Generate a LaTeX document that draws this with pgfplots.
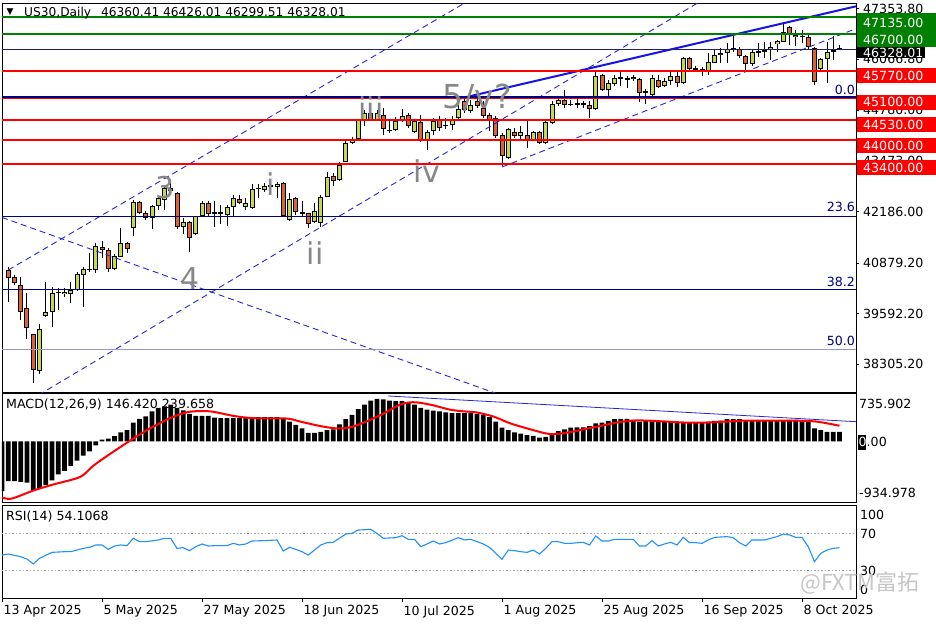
\documentclass[border=0pt]{standalone}
\usepackage{pgfplots}
\pgfplotsset{compat=1.18}
\usepackage{pgfplotstable}
\usepackage{fontspec}
\setmainfont{DejaVu Sans}
\newfontfamily\cjk{Noto Sans CJK SC}
\definecolor{bull}{RGB}{198,216,78}
\definecolor{bear}{RGB}{218,100,50}
\definecolor{mtgreen}{RGB}{0,128,0}
\definecolor{mtred}{RGB}{255,0,0}
\definecolor{navy}{RGB}{0,0,128}
\definecolor{bidline}{RGB}{30,30,120}
\definecolor{chan}{RGB}{40,40,210}
\definecolor{trend}{RGB}{20,20,230}
\definecolor{fibfifty}{RGB}{150,150,196}
\definecolor{rsiblue}{RGB}{30,144,255}
\definecolor{wave}{RGB}{135,135,135}
\newcommand{\lf}{\fontsize{12.6pt}{15pt}\selectfont}
\newcommand{\wf}{\fontsize{30pt}{34pt}\selectfont}

\pgfplotstableread{
i o h l c
6 38124 39324 38064 39214
7 39537 40406 39512 39623
8 39623 40278 39256 40108
9 40125 40236 39682 40142
10 40082 40236 40022 40142
11 40082 40406 39869 40193
12 40193 40662 40176 40593
13 40576 40789 39750 40730
14 40704 41130 40662 40738
15 40704 41403 40636 41318
18 40721 41113 40704 41070
19 41045 41769 41028 41403
21 41769 42493 41573 42433
24 42024 42365 41743 42322
25 42339 42578 42220 42535
26 42493 42833 42237 42791
29 41795 42024 41624 41922
31 41624 42084 41607 42067
32 42067 42450 42050 42408
34 42145 42455 41804 42179
35 42145 42358 41873 42188
36 42103 42358 41822 42316
37 42316 42614 42060 42528
39 42299 42528 42230 42401
40 42273 42895 42248 42759
41 42776 42895 42528 42793
42 42741 42912 42699 42844
43 42827 42997 42741 42869
44 42827 42954 42528 42886
46 41975 42673 41958 42511
50 41932 42401 41890 42213
51 41907 42614 41804 42571
52 42571 43210 42554 43065
54 42997 43465 42980 43380
55 43465 43976 43440 43934
56 43934 44087 43917 44036
57 44036 44547 44019 44513
58 44513 44785 44360 44700
60 44530 44785 44487 44700
63 44257 44598 44232 44487
64 44513 44802 44462 44615
66 44215 44530 44189 44487
68 44002 44274 43764 44206
69 44232 44573 44147 44487
71 44377 44573 44291 44394
72 44402 44632 44274 44547
73 44560 45040 44540 44800
75 44743 45041 44700 44913
81 43550 44317 43525 44291
83 44104 44360 44019 44206
85 44019 44232 43976 44206
87 43934 44487 43917 44462
88 44445 44998 44428 44939
89 44939 45109 44888 45041
91 44913 45041 44871 44922
92 44930 45126 44828 44947
95 44803 45765 44785 45637
97 45296 45552 45126 45467
98 45450 45654 45399 45595
99 45586 45739 45382 45603
101 45569 45654 45509 45620
103 45238 45298 44940 45255
104 45153 45664 45128 45596
106 45383 45579 45349 45519
107 45519 45749 45409 45639
109 45451 46133 45434 46090
111 45818 45894 45775 45826
113 45749 46235 45664 46005
114 45979 46320 45962 46175
115 46184 46346 45962 46235
116 46235 46473 45979 46329
117 46303 46686 46260 46346
120 45946 46303 45894 46260
121 46235 46473 46133 46277
122 46277 46516 46090 46294
123 46303 46516 46048 46388
124 46448 46559 46260 46533
125 46516 47001 46499 46754
128 46644 46814 46490 46652
131 45809 46090 45775 46065
132 46065 46516 45451 46260
}\bulltab

\pgfplotstableread{
i o h l c
1 40704 40789 39895 40491
2 40517 40576 40321 40363
3 40321 40517 39427 39639
4 39725 40125 38958 39239
5 39069 39086 37834 38149
16 41300 41445 41002 41215
17 41215 41258 40662 40721
20 41386 41428 41130 41232
22 42433 42450 42135 42152
23 42152 42195 41982 42024
27 42791 42919 42663 42706
28 42663 42680 41743 41795
30 41922 41939 41173 41513
33 42408 42450 42050 42126
38 42511 42614 42384 42401
45 42912 42954 42060 42077
47 42528 42554 42103 42188
48 42179 42469 42060 42145
49 42145 42162 41762 41873
53 43099 43167 42844 42980
59 44700 44828 44487 44530
61 44658 44828 44147 44300
62 44275 44487 44189 44257
65 44658 44700 44317 44360
67 44462 44658 43951 43993
70 44530 44632 44232 44317
74 44998 45084 44700 44785
76 44998 45126 44828 44888
77 44828 44998 44572 44615
78 44658 44700 44232 44530
79 44572 44615 44061 44104
80 44147 44189 43338 43593
82 44206 44317 44061 44104
84 44147 44487 43806 44019
86 44206 44232 43917 43934
90 45041 45296 44828 44913
93 44939 44998 44828 44930
94 44913 44998 44572 44803
96 45654 45680 45254 45296
100 45577 45637 45339 45560
102 45560 45600 44980 45200
105 45537 45664 45324 45349
108 45639 45749 45349 45451
110 46090 46116 45775 45809
112 45809 45860 45639 45749
118 46329 46388 46090 46150
119 46150 46175 45749 45946
126 46882 46916 46431 46686
127 46686 46814 46405 46627
129 46627 46686 46303 46388
130 46363 46388 45409 45494
133 46286 46661 46048 46277
134 46360.41 46426.01 46299.51 46328.01
}\beartab

\pgfplotstableread{
i v
0 -769
1 -612
2 -612
3 -623
4 -638
5 -759
6 -717
7 -675
8 -602
9 -508
10 -455
11 -377
12 -298
13 -220
14 -157
15 -63
16 26
17 42
18 78
19 136
20 173
21 288
22 345
23 382
24 461
25 513
26 539
27 565
28 513
29 476
30 424
31 392
32 392
33 392
34 366
35 356
36 356
37 356
38 356
39 372
40 372
41 372
42 372
43 372
44 372
45 340
46 304
47 251
48 199
49 131
50 131
51 147
52 173
53 183
54 262
55 340
56 408
57 497
58 565
59 628
60 654
61 644
62 628
63 617
64 617
65 602
66 565
67 513
68 487
69 471
70 461
71 445
72 434
73 434
74 434
75 434
76 424
77 408
78 372
79 304
80 209
81 173
82 136
83 120
84 94
85 84
86 58
87 68
88 120
89 157
90 183
91 209
92 215
93 215
94 235
95 277
96 288
97 314
98 340
99 345
100 345
101 330
102 304
103 319
104 314
105 314
106 304
107 304
108 293
109 293
110 293
111 293
112 293
113 304
114 314
115 319
116 340
117 340
118 340
119 319
120 319
121 319
122 319
123 319
124 319
125 319
126 330
127 330
128 319
129 319
130 199
131 173
132 147
133 147
134 146.42
}\macdtab

\pgfplotstableread{
i v
0 -863
1.5 -884
5 -759
8.2 -665
12.5 -549
14.6 -377
17.3 -194
21 42
23.7 199
26.9 356
29.5 445
31.7 466
33.8 455
37 392
40.2 356
45.5 351
47.7 304
50.9 235
53.5 199
55.7 215
58.3 304
61 424
63.7 565
65.8 602
68.5 565
71.7 487
74 460
75.9 445
78.6 382
81.3 277
84 199
86.6 131
88 110
90.3 131
93 183
95.7 235
98.3 288
101 319
103.1 319
106.3 304
109.5 288
112.7 288
116 304
119.1 319
122.3 319
125.5 319
128.7 314
130.3 304
132 277
134 239.658
}\sigtab

\pgfplotstableread{
i v
0 46.2
1 47.3
3 44.4
4 41.9
5 36.6
6 42.7
8 49.1
10 49.8
11 49.8
13 53.4
14 54.5
15 57.0
16 57.0
17 52.3
18 55.9
19 57.0
20 56.3
21 64.2
22 60.6
23 60.6
25 62.4
26 64.2
27 64.2
28 53.4
29 54.1
30 50.9
31 55.2
32 58.1
33 55.9
34 56.3
36 56.3
37 58.8
38 57.0
39 58.1
40 61.3
42 61.7
44 62.4
45 50.5
46 54.5
47 52.3
48 49.8
49 46.2
50 51.6
51 57.0
52 59.5
53 59.9
55 68.8
56 69.5
57 73.1
59 73.8
60 69.5
61 64.2
63 64.9
64 67.0
65 63.1
66 63.1
67 55.2
68 58.1
69 61.3
70 58.1
71 59.5
73 64.9
74 62.5
75 63.1
76 60.6
77 58.1
78 54.5
80 41.6
81 51.6
82 50.9
83 49.8
84 49.1
85 51.6
86 47.3
87 53.4
88 60.6
89 60.6
90 58.8
91 58.8
93 59.9
94 57.0
95 66.7
96 61.3
97 61.3
98 63.1
99 63.1
101 63.1
102 55.9
103 55.9
104 61.7
105 55.9
106 58.1
107 59.9
108 57.0
109 65.2
110 59.5
111 59.5
112 58.8
113 62.4
114 65.2
116 66.0
117 64.9
118 59.5
119 55.9
120 62.4
121 62.4
122 62.4
124 66.0
125 68.8
126 67.8
127 65.2
128 65.2
129 55.2
130 39.1
131 48.1
132 51.6
133 53.4
134 54.1068
}\rsitab

\newcommand{\drawcandles}[2]{%
\addplot[draw=none, mark=none, error bars/.cd, y dir=both, y explicit, error mark=none,
  error bar style={draw=black, line width=1pt}]
  table[x=i, y expr={(\thisrow{h}+\thisrow{l})/2}, y error expr={(\thisrow{h}-\thisrow{l})/2}] {#1};
\addplot[draw=none, mark=none, error bars/.cd, y dir=both, y explicit, error mark=none,
  error bar style={draw=black, line width=5pt}]
  table[x=i, y expr={(\thisrow{o}+\thisrow{c})/2}, y error expr={max(abs(\thisrow{o}-\thisrow{c})/2,13)}] {#1};
\addplot[draw=none, mark=none, error bars/.cd, y dir=both, y explicit, error mark=none,
  error bar style={draw=#2, line width=3pt}]
  table[x=i, y expr={(\thisrow{o}+\thisrow{c})/2}, y error expr={max(abs(\thisrow{o}-\thisrow{c})/2-25.45,0)}] {#1};
}

\begin{document}
\begin{tikzpicture}[x=1pt,y=1pt]
\path[use as bounding box] (0,0) rectangle (936,-624);
\fill[white] (0,0) rectangle (936,-624);

% ---------------- main price panel ----------------
\begin{axis}[at={(2pt,-3pt)}, anchor=north west, scale only axis,
  width=854pt, height=389.5pt,
  xmin=0, xmax=136.64, ymin=37586, ymax=47499,
  axis line style={black, line width=0.8pt},
  xtick=\empty,
  ytick={47353.8,46066.8,44780,43473,42186,40879.2,39592.2,38305.2},
  yticklabels={47353.80,46066.80,44780.00,43473.00,42186.00,40879.20,39592.20,38305.20},
  ytick pos=right, yticklabel pos=right, ytick align=outside,
  major tick length=3pt, tick style={black, line width=0.6pt},
  yticklabel style={font=\lf, anchor=west, inner xsep=4pt},
  clip=true]
\drawcandles{\bulltab}{bull}
\drawcandles{\beartab}{bear}
% channel / trend lines
\addplot[chan, line width=0.9pt, dash pattern=on 6pt off 4pt] coordinates {(1.01,40704) (80,48054)};
\addplot[chan, line width=0.9pt, dash pattern=on 6pt off 4pt] coordinates {(4.48,37393) (114.9,47840)};
\addplot[chan, line width=0.9pt, dash pattern=on 6pt off 4pt] coordinates {(80,43325) (136.64,46847)};
\addplot[chan, line width=0.9pt, dash pattern=on 6pt off 4pt] coordinates {(0,42040) (82.88,37347)};
\addplot[trend, line width=2pt] coordinates {(72.75,45048) (136.64,47415)};
% fibonacci levels
\addplot[navy, line width=1pt] coordinates {(0,42070) (136.64,42070)};
\addplot[navy, line width=1pt] coordinates {(0,40195) (136.64,40195)};
\addplot[fibfifty, line width=1.5pt] coordinates {(0,38680) (136.64,38680)};
% horizontal levels
\addplot[mtgreen, line width=2pt] coordinates {(0,47135) (136.64,47135)};
\addplot[mtgreen, line width=2pt] coordinates {(0,46700) (136.64,46700)};
\addplot[bidline, line width=0.8pt] coordinates {(0,46328.01) (136.64,46328.01)};
\addplot[mtred, line width=2pt] coordinates {(0,45770) (136.64,45770)};
\addplot[mtred, line width=2.6pt] coordinates {(0,45100) (136.64,45100)};
\addplot[navy, line width=1.6pt] coordinates {(0,45100) (136.64,45100)};
\addplot[mtred, line width=2pt] coordinates {(0,44530) (136.64,44530)};
\addplot[mtred, line width=2pt] coordinates {(0,44000) (136.64,44000)};
\addplot[mtred, line width=2pt] coordinates {(0,43400) (136.64,43400)};
\end{axis}

% ---------------- MACD panel ----------------
\begin{axis}[at={(2pt,-393.5pt)}, anchor=north west, scale only axis,
  width=854pt, height=108.5pt,
  xmin=0, xmax=136.64, ymin=-934.978, ymax=735.902,
  axis line style={black, line width=0.8pt},
  xtick=\empty, ytick=\empty, clip=true]
\addplot[ybar, bar width=4.6pt, fill=black, draw=none] table[x=i, y=v] {\macdtab};
\addplot[mtred, line width=2pt, smooth] table[x=i, y=v] {\sigtab};
\addplot[chan, line width=0.8pt] coordinates {(61.76,698) (136.64,302)};
\end{axis}

% ---------------- RSI panel ----------------
\begin{axis}[at={(2pt,-505pt)}, anchor=north west, scale only axis,
  width=854pt, height=93pt,
  xmin=0, xmax=136.64, ymin=0, ymax=100,
  axis line style={black, line width=0.8pt},
  ytick=\empty,
  xtick={0,16,32,48,64,80,96,112,128},
  xticklabels={13 Apr 2025,5 May 2025,27 May 2025,18 Jun 2025,10 Jul 2025,1 Aug 2025,25 Aug 2025,16 Sep 2025,8 Oct 2025},
  xtick pos=bottom, xtick align=outside,
  major tick length=4pt, tick style={black, line width=0.6pt},
  xticklabel style={font=\lf, anchor=north west, inner xsep=1.5pt},
  clip=true]
\addplot[gray!70, line width=0.6pt, dash pattern=on 1.5pt off 2pt] coordinates {(0,70) (136.64,70)};
\addplot[gray!70, line width=0.6pt, dash pattern=on 1.5pt off 2pt] coordinates {(0,30) (136.64,30)};
\addplot[rsiblue, line width=1.1pt] table[x=i, y=v] {\rsitab};
\end{axis}

% ---------------- texts ----------------
\node[anchor=center, inner sep=0, font=\fontsize{9pt}{10pt}\selectfont] at (10,-12.5) {▼};
\node[anchor=west, inner sep=0, font=\fontsize{12.2pt}{14pt}\selectfont] at (24,-13.5) {US30,Daily\hspace{10pt}46360.41 46426.01 46299.51 46328.01};
\node[anchor=west, inner sep=0, font=\lf] at (6,-405) {MACD(12,26,9) 146.420 239.658};
\node[anchor=west, inner sep=0, font=\lf] at (6,-517) {RSI(14) 54.1068};

% Elliott wave labels
\begin{scope}[every node/.style={text=wave, inner sep=0, font=\wf}]
\node at (165,-188) {3};
\node at (190,-279) {4};
\node at (271,-184) {i};
\node at (315,-253) {ii};
\node at (371,-108) {iii};
\node at (427,-171) {iv};
\node[font=\fontsize{33pt}{36pt}\selectfont] at (477,-98) {5/v?};
\end{scope}

% fib labels
\begin{scope}[every node/.style={text=navy, inner sep=0, anchor=east, font=\lf}]
\node at (855,-90) {0.0};
\node at (855,-207) {23.6};
\node at (855,-282) {38.2};
\node at (855,-341) {50.0};
\end{scope}

% price level boxes
\fill[black] (857,-46) rectangle (925,-58);
\node[anchor=west, inner sep=0, text=white, font=\lf] at (863,-52.5) {46328.01};
\fill[mtgreen] (857,-13) rectangle (936,-31.5);
\node[anchor=west, inner sep=0, text=white, font=\lf] at (863,-22.5) {47135.00};
\fill[mtgreen] (857,-31.5) rectangle (936,-47);
\node[anchor=west, inner sep=0, text=white, font=\lf] at (863,-39.8) {46700.00};
\foreach \yt/\yc/\lab in {68/75.8/45770.00, 95/102/45100.00, 117/124.5/44530.00, 138/145.5/44000.00, 160/167.8/43400.00}{
  \fill[mtred] (857,-\yt) rectangle (936,-\yt-15);
  \node[anchor=west, inner sep=0, text=white, font=\lf] at (863,-\yc) {\lab};
}

% MACD / RSI scale labels
\node[anchor=west, inner sep=0, font=\lf] at (859,-404) {735.902};
\fill[black] (858,-435) rectangle (866,-450);
\node[anchor=west, inner sep=0, font=\lf] at (858.5,-442) {\textcolor{white}{0}.00};
\node[anchor=west, inner sep=0, font=\lf] at (859,-493) {-934.978};
\node[anchor=west, inner sep=0, font=\lf] at (860,-515) {100};
\node[anchor=west, inner sep=0, font=\lf] at (860,-534) {70};
\node[anchor=west, inner sep=0, font=\lf] at (860,-571) {30};
\node[anchor=west, inner sep=0, font=\lf] at (860,-590) {0};

% watermark
\node[anchor=west, inner sep=0, text=gray!45, font=\cjk\fontsize{22pt}{24pt}\selectfont] at (800,-583) {@FXTM富拓};
\end{tikzpicture}
\end{document}
